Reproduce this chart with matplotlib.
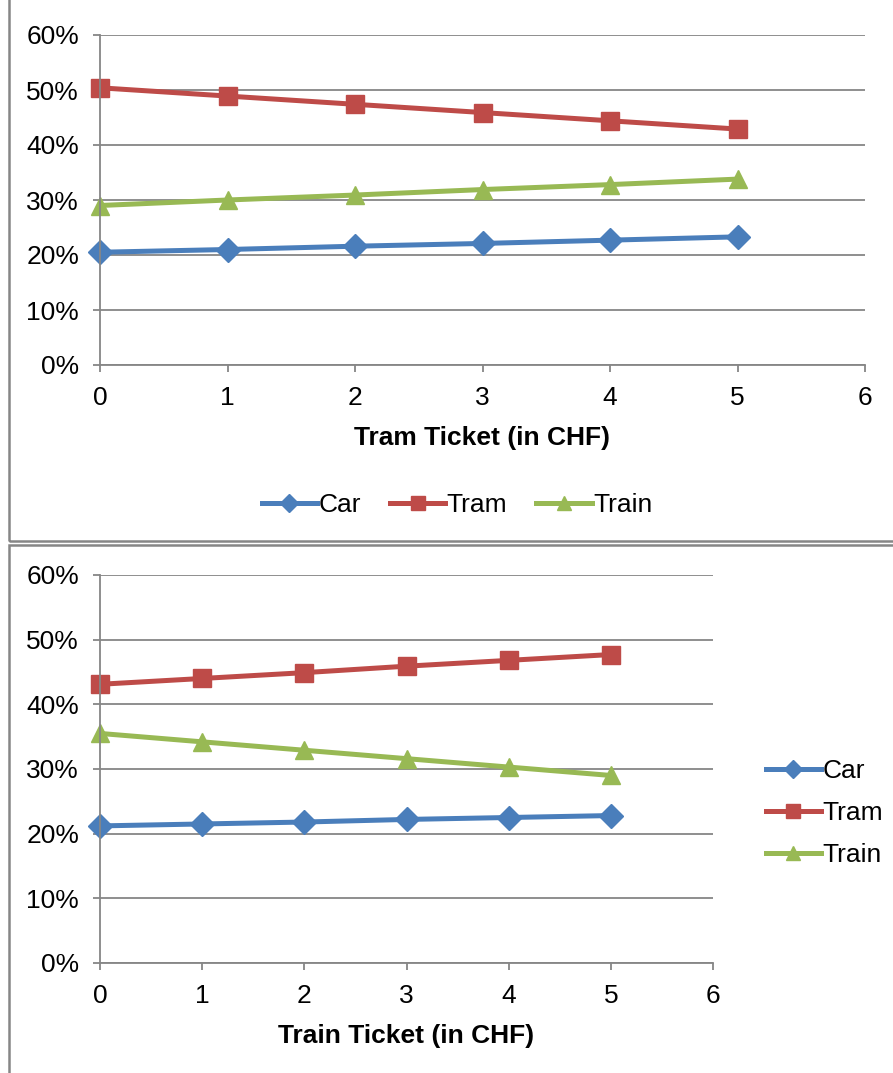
import matplotlib.pyplot as plt
from matplotlib.patches import Rectangle
from matplotlib.ticker import FuncFormatter

plt.rcParams['font.family'] = ['Liberation Sans', 'DejaVu Sans']

tickets = [0, 1, 2, 3, 4, 5]
series_names = ['Car', 'Tram', 'Train']

# top chart: tram ticket price varies
tram_car = [20.5, 21.0, 21.6, 22.1, 22.7, 23.3]
tram_tram = [50.4, 48.9, 47.4, 45.9, 44.4, 42.9]
tram_train = [29.0, 30.0, 30.9, 31.9, 32.8, 33.8]

# bottom chart: train ticket price varies
train_car = [21.2, 21.5, 21.8, 22.2, 22.5, 22.8]
train_tram = [43.1, 44.0, 44.9, 45.9, 46.8, 47.7]
train_train = [35.5, 34.2, 32.9, 31.6, 30.3, 29.0]

colors = ['#4A7EBB', '#BE4B48', '#98B954']
markers = ['D', 's', '^']
msizes = [12, 12.5, 13.5]
gray = '#868686'

W, H = 893, 1073
fig = plt.figure(figsize=(W / 100, H / 100), dpi=100)

# chart frames
fig.add_artist(Rectangle((8.5 / W, 1 - 541 / H), 1, 541 / H + 0.01,
                         transform=fig.transFigure, fill=False,
                         edgecolor=gray, lw=1.8))
fig.add_artist(Rectangle((8.5 / W, -0.01), 1, (1073 - 545) / H + 0.01,
                         transform=fig.transFigure, fill=False,
                         edgecolor=gray, lw=1.8))


def style_axes(ax, xlabel):
    ax.set_xlim(0, 6)
    ax.set_ylim(0, 60)
    ax.set_xticks(range(0, 7))
    ax.set_yticks(range(0, 70, 10))
    ax.yaxis.set_major_formatter(FuncFormatter(lambda v, p: f'{int(v)}%'))
    ax.grid(axis='y', color=gray, lw=1.3)
    ax.set_axisbelow(True)
    for s in ['top', 'right']:
        ax.spines[s].set_visible(False)
    for s in ['left', 'bottom']:
        ax.spines[s].set_color(gray)
        ax.spines[s].set_linewidth(1.3)
    ax.tick_params(axis='both', colors=gray, labelcolor='black',
                   labelsize=19, width=1.3)
    ax.tick_params(axis='y', length=5, pad=10)
    ax.tick_params(axis='x', length=5, pad=10)
    ax.set_xlabel(xlabel, fontsize=19, fontweight='bold', labelpad=12)


def draw(ax, data):
    lines = []
    for vals, c, m, ms, name in zip(data, colors, markers, msizes, series_names):
        ln, = ax.plot(tickets, vals, color=c, lw=3.6, marker=m, ms=ms,
                      mfc=c, mec=c, label=name, clip_on=False)
        lines.append(ln)
    return lines


ax1 = fig.add_axes([100 / W, 1 - 365 / H, 765 / W, 330 / H])
h1 = draw(ax1, [tram_car, tram_tram, tram_train])
style_axes(ax1, 'Tram Ticket (in CHF)')
fig.legend(handles=h1, loc='center', bbox_to_anchor=(457 / W, 1 - 505 / H),
           ncol=3, frameon=False, fontsize=19, handlelength=2.1,
           handletextpad=0.05, columnspacing=1.1, markerscale=0.75)

ax2 = fig.add_axes([100 / W, 1 - 963 / H, 613 / W, 388 / H])
h2 = draw(ax2, [train_car, train_tram, train_train])
style_axes(ax2, 'Train Ticket (in CHF)')
fig.legend(handles=h2, loc='center left', bbox_to_anchor=(742 / W, 1 - 813 / H),
           ncol=1, frameon=False, fontsize=19, handlelength=2.1,
           handletextpad=0.05, labelspacing=0.68, markerscale=0.75)

fig.savefig('out.png', dpi=100)
